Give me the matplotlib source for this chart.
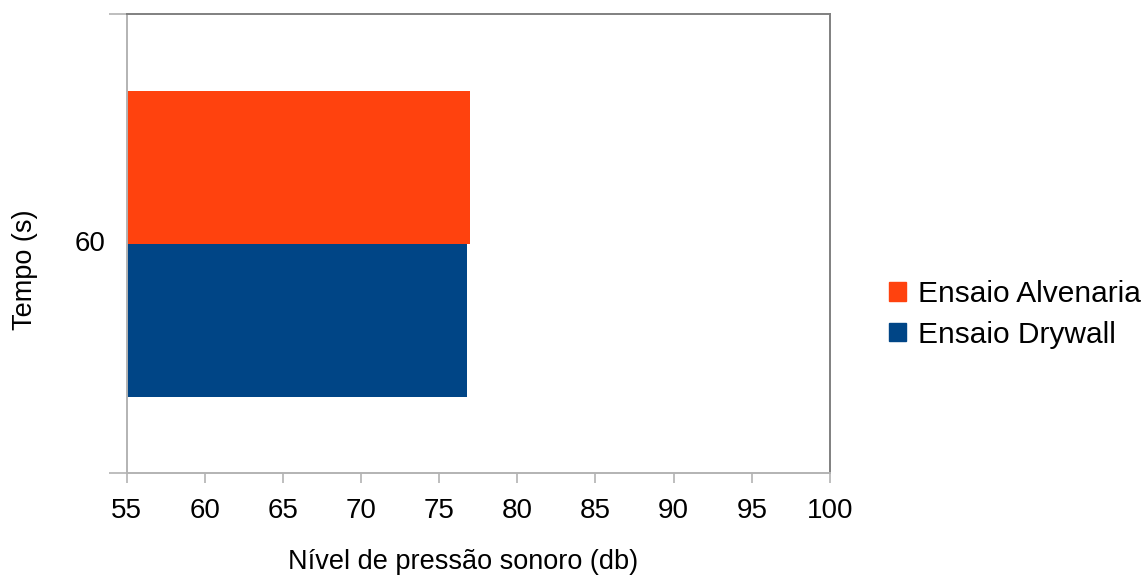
import matplotlib.pyplot as plt
from matplotlib.patches import Patch

plt.rcParams["font.family"] = ["Liberation Sans", "DejaVu Sans"]

# ========================
# DATA
# ========================
categories = ["60"]
series_names = ["Ensaio Alvenaria", "Ensaio Drywall"]
alvenaria = [77.0]
drywall = [76.8]
x_ticks = [55, 60, 65, 70, 75, 80, 85, 90, 95, 100]

ORANGE = "#ff420e"
BLUE = "#004586"
EDGE = "#b3b3b3"

fig = plt.figure(figsize=(11.47, 5.77), dpi=100)
ax = fig.add_axes([0.1103, 0.1794, 0.6133, 0.7963])

h = 0.333
base = 55
ax.barh([0 + h / 2], [v - base for v in alvenaria], height=h, left=base,
        color=ORANGE, label=series_names[0])
ax.barh([0 - h / 2], [v - base for v in drywall], height=h, left=base,
        color=BLUE, label=series_names[1])

ax.set_xlim(55, 100)
ax.set_ylim(-0.5, 0.5)
ax.set_xticks(x_ticks)
ax.set_xticklabels([str(t) for t in x_ticks], fontsize=20)

# category label sits between the boundary ticks, like the source chart
ax.set_yticks([-0.5, 0.5])
ax.set_yticklabels(["", ""])
ax.tick_params(axis="y", length=13, width=1.2, color=EDGE)
ax.tick_params(axis="x", length=7, width=1.2, color=EDGE, pad=11)
ax.text(-0.03, 0.5, categories[0], transform=ax.transAxes, fontsize=20,
        ha="right", va="center")

for side in ["left", "bottom"]:
    ax.spines[side].set_color(EDGE)
    ax.spines[side].set_linewidth(1.4)
for side in ["top", "right"]:
    ax.spines[side].set_color("#808080")
    ax.spines[side].set_linewidth(1.4)

fig.text(0.404, 0.026, "Nível de pressão sonoro (db)", fontsize=19.5,
         ha="center", va="center")
fig.text(0.022, 0.532, "Tempo (s)", fontsize=19.5, rotation=90,
         ha="center", va="center")

handles = [Patch(color=ORANGE), Patch(color=BLUE)]
fig.legend(handles, series_names, loc="center left",
           bbox_to_anchor=(0.7515, 0.455), frameon=False, fontsize=21.5,
           handlelength=0.57, handleheight=0.57, handletextpad=0.4,
           labelspacing=0.42)

plt.savefig("out.png", dpi=100)
plt.close()
